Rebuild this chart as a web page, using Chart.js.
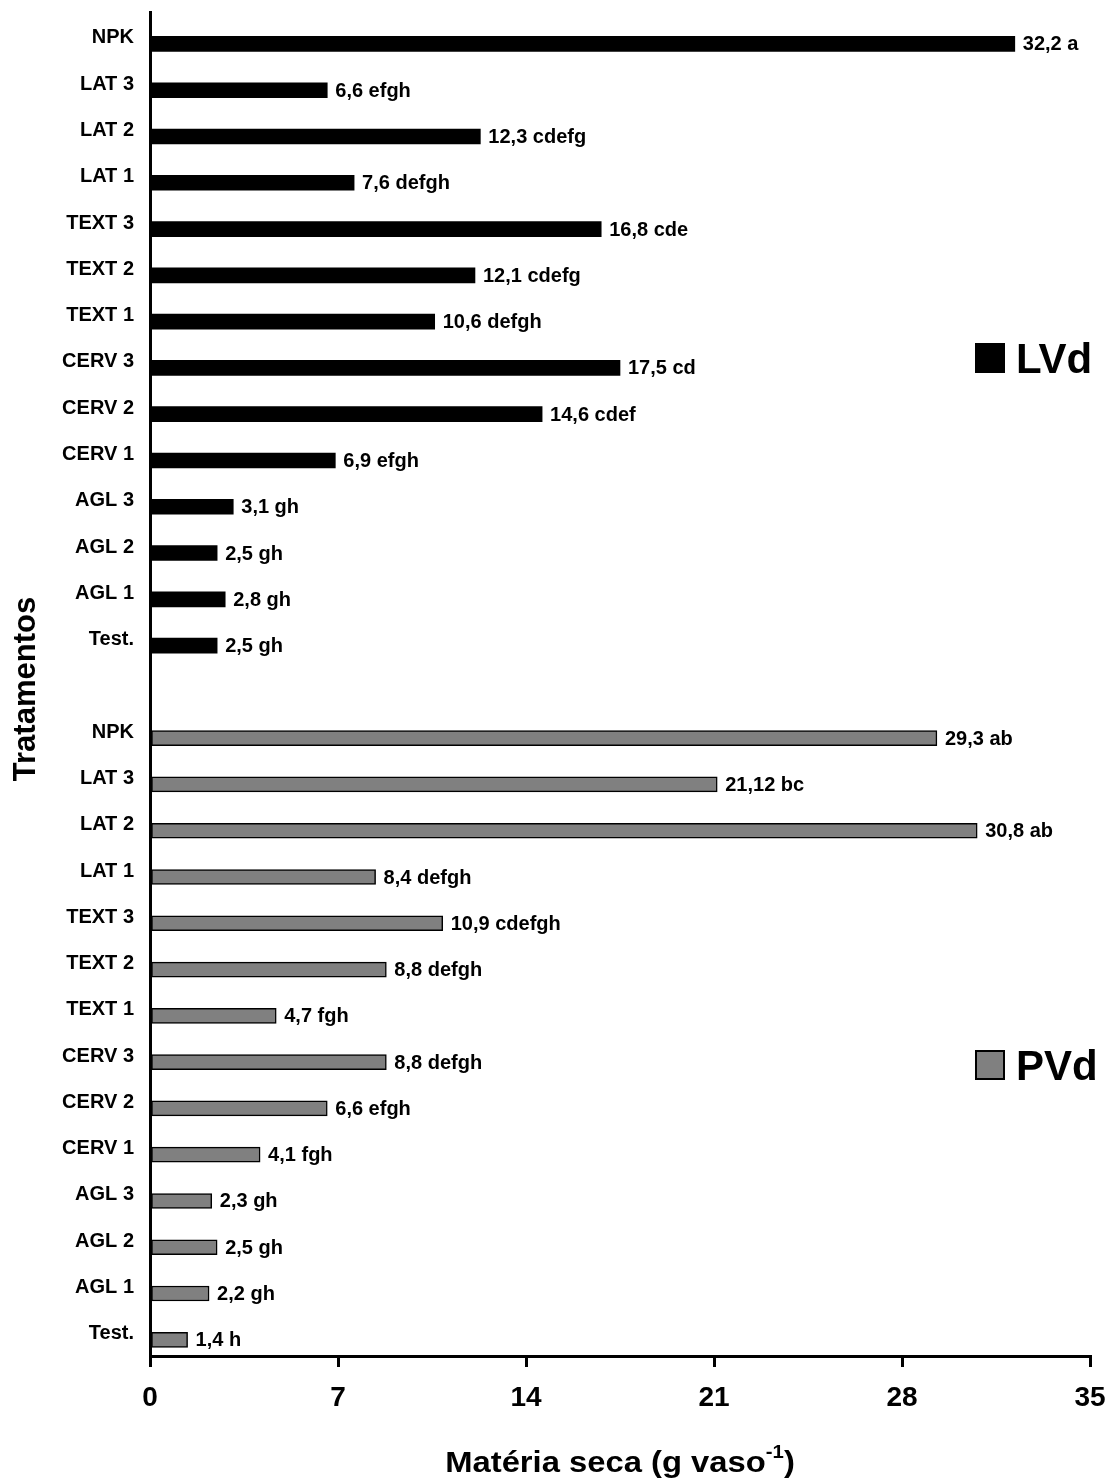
<!DOCTYPE html>
<html>
<head>
<meta charset="utf-8">
<script src="https://cdn.jsdelivr.net/npm/chart.js@4"></script>
<style>
  html, body { margin: 0; padding: 0; background: #fff; }
  #wrap { width: 1110px; height: 1479px; position: relative; }
</style>
</head>
<body>
<div id="wrap"><canvas id="chart"></canvas></div>
<script>
// treatments, top to bottom inside each soil block
const treatments = ["NPK", "LAT 3", "LAT 2", "LAT 1", "TEXT 3", "TEXT 2", "TEXT 1",
    "CERV 3", "CERV 2", "CERV 1", "AGL 3", "AGL 2", "AGL 1", "Test."];

const lvdValues = [32.2, 6.6, 12.3, 7.6, 16.8, 12.1, 10.6, 17.5, 14.6, 6.9, 3.1, 2.5, 2.8, 2.5];
const lvdLetters = ["a", "efgh", "cdefg", "defgh", "cde", "cdefg", "defgh", "cd", "cdef", "efgh", "gh", "gh", "gh", "gh"];

const pvdValues = [29.3, 21.12, 30.8, 8.4, 10.9, 8.8, 4.7, 8.8, 6.6, 4.1, 2.3, 2.5, 2.2, 1.4];
const pvdLetters = ["ab", "bc", "ab", "defgh", "cdefgh", "defgh", "fgh", "defgh", "efgh", "fgh", "gh", "gh", "gh", "h"];

const xTicks = [0, 7, 14, 21, 28, 35];

// row labels: LVd block, one empty row, PVd block
const rowLabels = treatments.concat([""], treatments);
const pvdOffset = treatments.length + 1;

const FONT = '"Liberation Sans", Arial, Helvetica, sans-serif';

function fmt(v) {
    return String(v).replace(".", ",");
}

function noPad(s) {
    s.paddingTop = 0;
    s.paddingBottom = 0;
    s.paddingLeft = 0;
    s.paddingRight = 0;
}

const annotate = {
    id: "annotate",
    afterDatasetsDraw(chart) {
        const ctx = chart.ctx;
        ctx.save();
        ctx.font = "bold 20px " + FONT;
        ctx.fillStyle = "#000";
        ctx.textAlign = "left";
        ctx.textBaseline = "middle";
        chart.data.datasets.forEach((ds, di) => {
            chart.getDatasetMeta(di).data.forEach((bar, i) => {
                ctx.fillText(fmt(ds.data[i].x) + " " + ds.letters[i], bar.x + 8, bar.y + 1);
            });
        });
        ctx.restore();
    },
    afterDraw(chart) {
        const ctx = chart.ctx;
        const area = chart.chartArea;
        ctx.save();
        ctx.fillStyle = "#000";

        // y title
        ctx.save();
        ctx.translate(26, (area.top + area.bottom) / 2 + 5);
        ctx.rotate(-Math.PI / 2);
        ctx.font = "bold 31px " + FONT;
        ctx.textAlign = "center";
        ctx.textBaseline = "middle";
        ctx.fillText("Tratamentos", 0, 0);
        ctx.restore();

        // x title with superscript (slightly stretched like the original)
        const main = "Matéria seca (g vaso";
        const sup = "-1";
        const tail = ")";
        const stretch = 1.13;
        ctx.textAlign = "left";
        ctx.textBaseline = "alphabetic";
        ctx.font = "bold 29px " + FONT;
        const wMain = ctx.measureText(main).width;
        const wTail = ctx.measureText(tail).width;
        ctx.font = "bold 18px " + FONT;
        const wSup = ctx.measureText(sup).width;
        const cx = (area.left + area.right) / 2;
        ctx.save();
        ctx.translate(cx, 1472);
        ctx.scale(stretch, 1);
        let x = -(wMain + wSup + wTail) / 2;
        ctx.font = "bold 29px " + FONT;
        ctx.fillText(main, x, 0);
        x += wMain;
        ctx.font = "bold 18px " + FONT;
        ctx.fillText(sup, x, -14);
        x += wSup;
        ctx.font = "bold 29px " + FONT;
        ctx.fillText(tail, x, 0);
        ctx.restore();

        // legend
        const items = [
            { text: "LVd", fill: "#000", y: 343 },
            { text: "PVd", fill: "#808080", y: 1050 },
        ];
        items.forEach((it) => {
            ctx.fillStyle = it.fill;
            ctx.fillRect(975, it.y, 30, 30);
            ctx.lineWidth = 2;
            ctx.strokeStyle = "#000";
            ctx.strokeRect(976, it.y + 1, 28, 28);
            ctx.fillStyle = "#000";
            ctx.font = "bold 42px " + FONT;
            ctx.textBaseline = "alphabetic";
            ctx.fillText(it.text, 1016, it.y + 30);
        });
        ctx.restore();
    },
};

new Chart(document.getElementById("chart"), {
    type: "bar",
    data: {
        datasets: [
            {
                label: "LVd",
                data: lvdValues.map((v, i) => ({ x: v, y: i })),
                letters: lvdLetters,
                backgroundColor: "#000",
                borderWidth: 0,
                barThickness: 15,
                grouped: false,
            },
            {
                label: "PVd",
                data: pvdValues.map((v, i) => ({ x: v, y: i + pvdOffset })),
                letters: pvdLetters,
                backgroundColor: "#808080",
                borderColor: "#000",
                borderWidth: 1.5,
                borderSkipped: false,
                barThickness: 15,
                grouped: false,
            },
        ],
    },
    options: {
        indexAxis: "y",
        responsive: true,
        maintainAspectRatio: false,
        animation: false,
        layout: { padding: { top: 12, right: 20, bottom: 0, left: 0 } },
        plugins: {
            legend: { display: false },
            tooltip: { enabled: false },
        },
        scales: {
            x: {
                type: "linear",
                min: 0,
                max: 35,
                afterFit: (s) => { s.height = 123; noPad(s); },
                afterBuildTicks: (s) => { s.ticks = xTicks.map((v) => ({ value: v })); },
                ticks: {
                    color: "#000",
                    font: { family: FONT, size: 28, weight: "bold" },
                    padding: 14,
                },
                grid: {
                    drawOnChartArea: false,
                    drawTicks: true,
                    tickLength: 11,
                    lineWidth: 3,
                    color: "#000",
                },
                border: { display: true, color: "#000", width: 3 },
            },
            y: {
                type: "linear",
                reverse: true,
                offset: false,
                bounds: "data",
                min: -0.69,
                max: 28.35,
                afterFit: (s) => { s.width = 150; noPad(s); },
                afterBuildTicks: (s) => { s.ticks = rowLabels.map((_, i) => ({ value: i })); },
                ticks: {
                    autoSkip: false,
                    color: "#000",
                    font: { family: FONT, size: 20, weight: "bold" },
                    padding: 16,
                    labelOffset: -6,
                    callback: (v) => rowLabels[v] ?? "",
                },
                grid: { display: false, drawTicks: false },
                border: { display: true, color: "#000", width: 3 },
            },
        },
    },
    plugins: [annotate],
});
</script>
</body>
</html>
